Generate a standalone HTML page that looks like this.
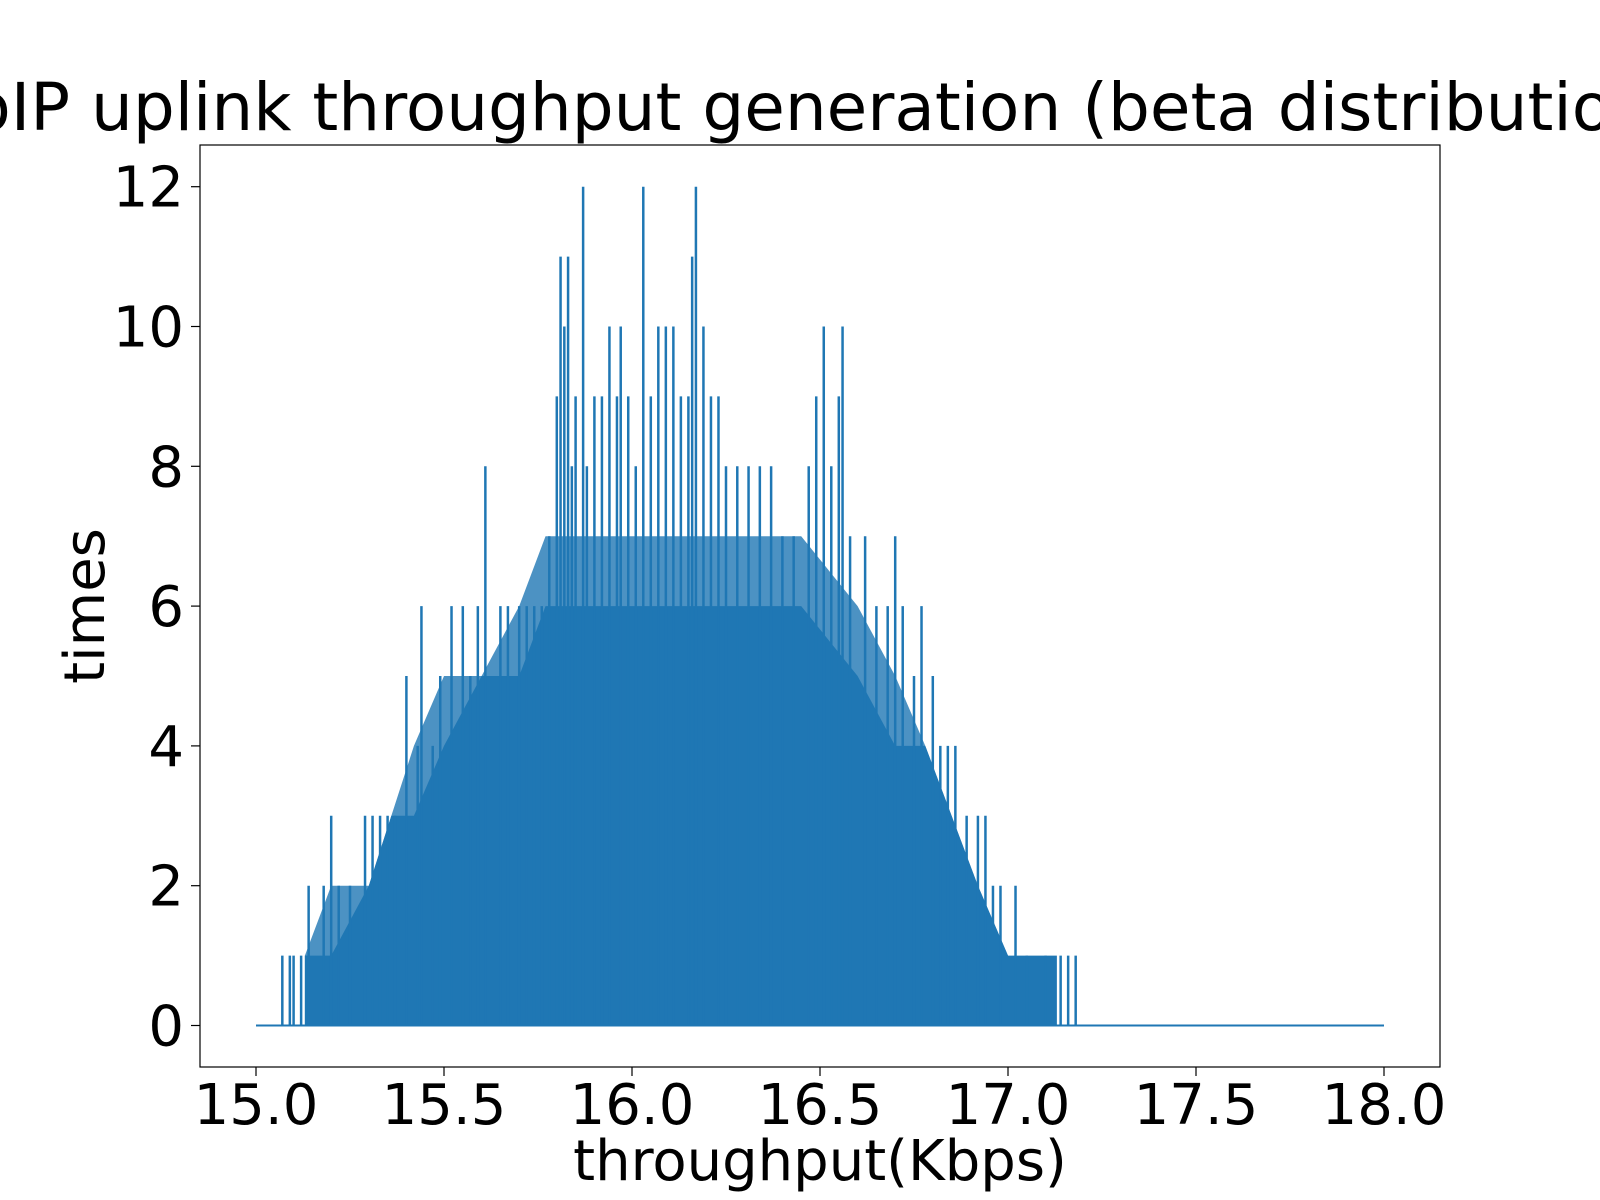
<!DOCTYPE html>
<html><head><meta charset="utf-8"><style>
html,body{margin:0;padding:0;background:#fff;overflow:hidden}
svg{display:block;font-family:"DejaVu Sans","Liberation Sans",sans-serif}
</style></head><body>
<svg id="chart" width="1600" height="1200" viewBox="0 0 1600 1200" xmlns="http://www.w3.org/2000/svg">
<rect width="1600" height="1200" fill="#fff"/>
<text x="805" y="130" font-size="66" text-anchor="middle" fill="#000">VoIP uplink throughput generation (beta distribution)</text>
<g id="marks"></g>
<rect x="200" y="145" width="1240" height="922" fill="none" stroke="#000" stroke-width="1.2"/>
<g id="axes"></g>
<text x="820" y="1180" font-size="56" text-anchor="middle">throughput(Kbps)</text>
<text transform="translate(104,606) rotate(-90)" font-size="56" text-anchor="middle">times</text>
</svg>
<script>
const xTicks=[15.0,15.5,16.0,16.5,17.0,17.5,18.0];
const xTickLabels=["15.0","15.5","16.0","16.5","17.0","17.5","18.0"];
const yTicks=[0,2,4,6,8,10,12];
const yTickLabels=["0","2","4","6","8","10","12"];
const levelX=[15.13,15.20,15.30,15.36,15.42,15.50,15.60,15.70,15.77,15.95,16.45,16.60,16.70,16.78,16.85,16.92,17.00,17.13];
const levelY=[1,1,2,3,3,4,5,5,6,6,6,5,4,4,3,2,1,1];
const bandY=[1,2,2,3,4,5,5,6,7,7,7,6,5,4,3,2,1,0];
const spikeX=[15.07,15.09,15.10,15.12,15.14,15.18,15.20,15.22,15.25,15.29,15.31,15.33,15.35,15.37,15.40,15.43,15.44,15.47,15.49,15.52,15.55,15.57,15.59,15.61,15.63,15.65,15.67,15.70,15.72,15.74,15.76,15.78,15.80,15.81,15.82,15.83,15.84,15.85,15.87,15.88,15.90,15.92,15.94,15.96,15.97,15.99,16.01,16.03,16.05,16.07,16.09,16.11,16.13,16.15,16.16,16.17,16.19,16.21,16.23,16.25,16.28,16.31,16.34,16.37,16.40,16.43,16.47,16.49,16.51,16.53,16.55,16.56,16.58,16.62,16.65,16.68,16.70,16.72,16.75,16.77,16.80,16.82,16.84,16.86,16.89,16.92,16.94,16.96,16.98,17.02,17.05,17.10,17.14,17.16,17.18];
const spikeY=[1,1,1,1,2,2,3,2,2,3,3,3,3,3,5,4,6,4,5,6,6,5,6,8,5,6,6,6,6,6,6,7,9,11,10,11,8,9,12,8,9,9,10,9,10,9,8,12,9,10,10,10,9,9,11,12,10,9,9,8,8,8,8,8,7,7,8,9,10,8,9,10,7,7,6,6,7,6,5,6,5,4,4,4,3,3,3,2,2,2,1,1,1,1,1];
const X=v=>256+(v-15)*(1384-256)/3;
const Y=v=>1025.5-v*(1025.5-186.7)/12;
const NS="http://www.w3.org/2000/svg";
const marks=document.getElementById('marks'),axes=document.getElementById('axes');
function mk(t,a,p){const e=document.createElementNS(NS,t);for(const k in a)e.setAttribute(k,a[k]);p.appendChild(e);return e;}
const C="#1f77b4";
let d=`M${X(levelX[0])},${Y(0)}`;
for(let i=0;i<levelX.length;i++){d+=` L${X(levelX[i])},${Y(bandY[i])}`;}
d+=` L${X(levelX[levelX.length-1])},${Y(0)} Z`;
let band=mk('path',{d:d,fill:C,opacity:0.8},marks);


d=`M${X(levelX[0])},${Y(0)}`;
for(let i=0;i<levelX.length;i++){d+=` L${X(levelX[i])},${Y(levelY[i])}`;}
d+=` L${X(levelX[levelX.length-1])},${Y(0)} Z`;
let fill=mk('path',{d:d,fill:C},marks);


for(let i=0;i<spikeX.length;i++){
 const l=mk('line',{x1:X(spikeX[i]),x2:X(spikeX[i]),y1:Y(0),y2:Y(spikeY[i]),stroke:C,'stroke-width':2.5},marks);
 
 
}
const zl=mk('line',{x1:X(15),x2:X(18),y1:Y(0),y2:Y(0),stroke:C,'stroke-width':2},marks);


xTicks.forEach((v,i)=>{
 const t=mk('line',{x1:X(v),x2:X(v),y1:1067,y2:1076,stroke:'#000','stroke-width':1.2},axes);
 
 
 const s=mk('text',{x:X(v),y:1124,'font-size':56,'text-anchor':'middle'},axes);
 s.textContent=xTickLabels[i];
 
 
});
yTicks.forEach((v,i)=>{
 const t=mk('line',{x1:191,x2:200,y1:Y(v),y2:Y(v),stroke:'#000','stroke-width':1.2},axes);
 
 
 const s=mk('text',{x:184,y:Y(v)+20,'font-size':56,'text-anchor':'end'},axes);
 s.textContent=yTickLabels[i];
 
 
});
</script>
</body></html>
